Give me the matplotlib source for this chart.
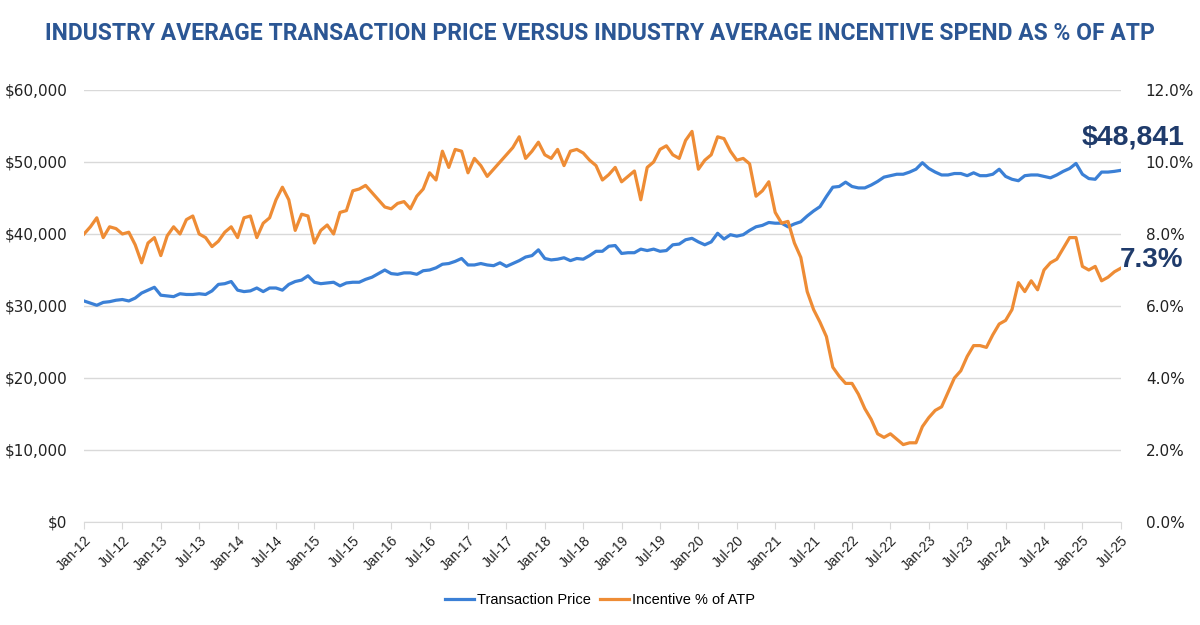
import numpy as np
import matplotlib.pyplot as plt
from matplotlib.ticker import FuncFormatter

# monthly values Jan-12 .. Jul-25
atp = [
    30.7, 30.4, 30.1, 30.5, 30.6, 30.8, 30.9, 30.7, 31.1, 31.8, 32.2, 32.6,  # 2012
    31.5, 31.4, 31.3, 31.7, 31.6, 31.6, 31.7, 31.6, 32.1, 33.0, 33.1, 33.4,  # 2013
    32.2, 32.0, 32.1, 32.5, 32.0, 32.5, 32.5, 32.2, 33.0, 33.4, 33.6, 34.2,  # 2014
    33.3, 33.1, 33.2, 33.3, 32.8, 33.2, 33.3, 33.3, 33.7, 34.0, 34.5, 35.0,  # 2015
    34.5, 34.4, 34.6, 34.6, 34.4, 34.9, 35.0, 35.3, 35.8, 35.9, 36.2, 36.6,  # 2016
    35.7, 35.7, 35.9, 35.7, 35.6, 36.0, 35.5, 35.9, 36.3, 36.8, 37.0, 37.8,  # 2017
    36.6, 36.4, 36.5, 36.7, 36.3, 36.6, 36.5, 37.0, 37.6, 37.6, 38.3, 38.4,  # 2018
    37.3, 37.4, 37.4, 37.9, 37.7, 37.9, 37.6, 37.7, 38.5, 38.6, 39.2, 39.4,  # 2019
    38.9, 38.5, 38.9, 40.1, 39.3, 39.9, 39.7, 39.9, 40.5, 41.0, 41.2, 41.6,  # 2020
    41.5, 41.5, 41.0, 41.4, 41.7, 42.5, 43.2, 43.8, 45.2, 46.5, 46.6, 47.2,  # 2021
    46.6, 46.4, 46.4, 46.8, 47.3, 47.9, 48.1, 48.3, 48.3, 48.6, 49.0, 49.9,  # 2022
    49.1, 48.6, 48.2, 48.2, 48.4, 48.4, 48.1, 48.5, 48.1, 48.1, 48.3, 49.0,  # 2023
    48.0, 47.6, 47.4, 48.1, 48.2, 48.2, 48.0, 47.8, 48.2, 48.7, 49.1, 49.8,  # 2024
    48.3, 47.7, 47.6, 48.6, 48.6, 48.7, 48.841,                              # 2025
]
atp = [v * 1000 for v in atp]

incentive = [
    8.0, 8.2, 8.45, 7.9, 8.2, 8.15, 8.0, 8.05, 7.7, 7.2, 7.75, 7.9,
    7.4, 7.95, 8.2, 8.0, 8.4, 8.5, 8.0, 7.9, 7.65, 7.8, 8.05, 8.2,
    7.9, 8.45, 8.5, 7.9, 8.3, 8.45, 8.95, 9.3, 8.95, 8.1, 8.55, 8.5,
    7.75, 8.1, 8.25, 8.0, 8.6, 8.65, 9.2, 9.25, 9.35, 9.15, 8.95, 8.75,
    8.7, 8.85, 8.9, 8.7, 9.05, 9.25, 9.7, 9.5, 10.3, 9.85, 10.35, 10.3,
    9.7, 10.1, 9.9, 9.6, 9.8, 10.0, 10.2, 10.4, 10.7, 10.1, 10.3, 10.55,
    10.2, 10.1, 10.35, 9.9, 10.3, 10.35, 10.25, 10.05, 9.9, 9.5, 9.65, 9.85,
    9.45, 9.6, 9.75, 8.95, 9.85, 10.0, 10.35, 10.45, 10.2, 10.1, 10.6, 10.85,
    9.8, 10.05, 10.2, 10.7, 10.65, 10.3, 10.05, 10.1, 9.95, 9.05, 9.2, 9.45,
    8.6, 8.3, 8.35, 7.75, 7.35, 6.4, 5.9, 5.55, 5.15, 4.3, 4.05, 3.85,
    3.85, 3.55, 3.15, 2.85, 2.45, 2.35, 2.45, 2.3, 2.15, 2.2, 2.2, 2.65,
    2.9, 3.1, 3.2, 3.6, 4.0, 4.2, 4.6, 4.9, 4.9, 4.85, 5.2, 5.5,
    5.6, 5.9, 6.65, 6.4, 6.7, 6.45, 7.0, 7.2, 7.3, 7.6, 7.9, 7.9,
    7.1, 7.0, 7.1, 6.7, 6.8, 6.95, 7.05,
]

tick_labels = []
for yr in range(12, 26):
    tick_labels += ["Jan-%d" % yr, "Jul-%d" % yr]

months = np.arange(len(atp))
blue = "#3b80d6"
orange = "#ee8c35"
navy = "#1f3b6b"
sans = ["Liberation Sans", "DejaVu Sans"]

fig = plt.figure(figsize=(12, 6.25), dpi=100)
ax = fig.add_axes([0.07, 0.1648, 0.864, 0.6912])
ax2 = ax.twinx()

l1, = ax.plot(months, atp, color=blue, lw=2.3, label="Transaction Price", zorder=3)
l2, = ax2.plot(months[:len(incentive)], incentive, color=orange, lw=2.3,
               label="Incentive % of ATP", zorder=3)

ax.set_xlim(0, len(atp) - 1)
ax.set_ylim(0, 60000)
ax2.set_ylim(0, 12)
ax.set_yticks(np.arange(0, 60001, 10000))
ax2.set_yticks(np.arange(0, 12.1, 2))
ax.yaxis.set_major_formatter(FuncFormatter(lambda v, p: "${:,.0f}".format(v)))
ax2.yaxis.set_major_formatter(FuncFormatter(lambda v, p: "%.1f%%" % v))

ax.set_xticks(np.arange(0, len(atp), 6))
ax.set_xticklabels(tick_labels, rotation=45, ha="right", rotation_mode="anchor",
                   fontsize=10, family=sans, color="#222222")

ax.grid(axis="y", color="#d9d9d9", lw=1)
ax.set_axisbelow(True)
for a in (ax, ax2):
    for s in ("top", "left", "right", "bottom"):
        a.spines[s].set_visible(False)
ax.spines["bottom"].set_visible(True)
ax.spines["bottom"].set_color("#d9d9d9")
ax.tick_params(axis="x", length=5, color="#d9d9d9", pad=3)
ax.tick_params(axis="y", length=0, labelsize=11, labelcolor="#222222", pad=12)
ax2.tick_params(axis="y", length=0, labelsize=11, labelcolor="#222222", pad=18)

fig.text(0.5, 0.947, "INDUSTRY AVERAGE TRANSACTION PRICE VERSUS INDUSTRY AVERAGE INCENTIVE SPEND AS % OF ATP",
         ha="center", va="center", fontsize=16.5, fontweight="bold", color="#2b5694",
         family=["Roboto", "DejaVu Sans"])

ax.annotate("$48,841", xy=(1.0, atp[-1]), xycoords=("axes fraction", "data"),
            xytext=(46, 24), textcoords="offset points", ha="right", va="center",
            fontsize=20.5, fontweight="bold", color=navy, family=sans)
ax2.annotate("7.3%", xy=(1.0, incentive[-1]), xycoords=("axes fraction", "data"),
             xytext=(45, 6), textcoords="offset points", ha="right", va="center",
             fontsize=20, fontweight="bold", color=navy, family=sans)

fig.legend(handles=[l1, l2], loc="center", bbox_to_anchor=(0.5, 0.04), ncol=2,
           frameon=False, handlelength=2.0, handletextpad=0.2, columnspacing=0.6,
           prop={"family": sans, "size": 10.5})

plt.savefig("out.png", dpi=100)
